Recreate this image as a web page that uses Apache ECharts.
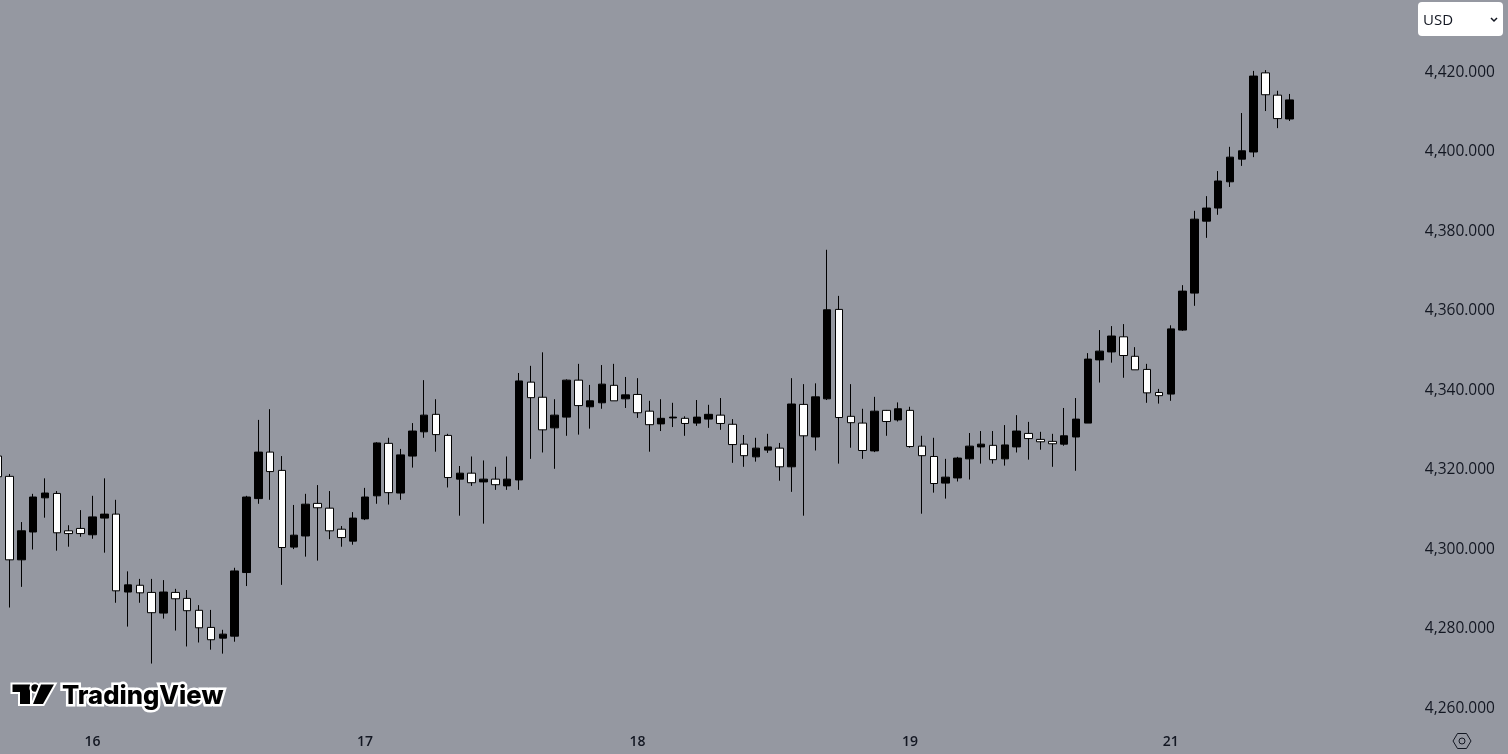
<!DOCTYPE html>
<html>
<head>
<meta charset="utf-8">
<title>USD chart</title>
<script src="https://cdn.jsdelivr.net/npm/echarts@6/dist/echarts.min.js"></script>
<style>
  html, body { margin: 0; padding: 0; background: #9598a1; }
  #chart { width: 1508px; height: 754px; }
</style>
</head>
<body>
<div id="chart"></div>
<script>
// hourly candles
const opens = [
  4323.0,4317.9,4296.9,4303.9,4312.5,4313.6,4304.2,4304.8,4303.2,4307.4,
  4308.4,4288.8,4290.5,4288.7,4283.5,4288.7,4287.2,4284.2,4279.9,4277.2,
  4277.7,4293.7,4312.3,4324.0,4319.4,4300.1,4302.9,4311.1,4309.9,4304.6,
  4301.6,4307.2,4313.0,4326.2,4313.7,4323.0,4329.1,4333.5,4328.2,4317.2,
  4318.7,4316.5,4317.2,4315.5,4317.0,4341.6,4337.8,4330.1,4332.8,4342.1,
  4335.4,4336.4,4340.8,4337.4,4338.5,4334.3,4331.1,4332.6,4332.5,4331.3,
  4332.3,4333.3,4331.0,4326.0,4322.8,4324.5,4325.0,4320.3,4336.0,4327.8,
  4337.4,4359.9,4333.0,4331.3,4324.3,4334.5,4332.1,4334.5,4325.5,4322.9,
  4316.2,4317.5,4322.3,4325.3,4325.7,4322.3,4325.3,4328.7,4327.2,4326.7,
  4326.0,4327.8,4331.3,4347.2,4349.2,4353.0,4348.1,4344.8,4339.0,4338.6,
  4354.7,4364.0,4382.1,4385.4,4392.0,4397.7,4399.5,4419.4,4413.8,4407.8
];
const closes = [
  4317.8,4296.9,4304.2,4312.7,4313.7,4303.7,4303.5,4303.5,4307.7,4308.4,
  4289.1,4290.6,4288.6,4283.6,4288.8,4287.1,4284.1,4279.8,4276.8,4278.2,
  4294.1,4312.7,4324.0,4319.1,4300.0,4303.1,4310.9,4310.0,4304.2,4302.5,
  4307.4,4312.7,4326.3,4313.8,4323.3,4329.3,4333.3,4328.4,4317.6,4318.7,
  4316.3,4317.2,4315.8,4317.2,4341.9,4337.7,4329.6,4333.3,4342.1,4335.7,
  4336.9,4341.1,4336.9,4338.4,4333.9,4330.9,4332.5,4332.8,4331.2,4332.8,
  4333.5,4331.2,4325.9,4323.1,4325.0,4325.3,4320.3,4336.1,4328.1,4337.9,
  4359.8,4332.7,4331.4,4324.4,4334.3,4331.7,4334.9,4325.4,4323.1,4316.1,
  4317.7,4322.5,4325.5,4326.0,4322.1,4325.8,4329.3,4327.4,4326.6,4326.1,
  4328.1,4332.3,4347.4,4349.4,4353.2,4348.3,4344.7,4338.9,4338.2,4355.0,
  4364.5,4382.6,4385.4,4392.2,4398.2,4399.8,4418.6,4413.9,4407.9,4412.6
];
const lows = [
  4317.8,4284.9,4290.1,4299.5,4307.5,4299.2,4300.2,4302.7,4302.2,4298.7,
  4286.1,4280.1,4286.1,4270.8,4282.1,4279.1,4275.1,4276.1,4274.3,4273.3,
  4276.3,4290.3,4311.0,4312.0,4290.6,4299.6,4297.7,4296.7,4302.1,4300.2,
  4300.7,4306.9,4311.0,4310.8,4312.0,4320.1,4327.6,4324.1,4315.1,4308.0,
  4315.5,4306.0,4314.5,4314.5,4314.5,4322.3,4323.9,4319.8,4328.1,4328.4,
  4329.9,4334.9,4336.9,4335.1,4332.6,4324.1,4329.3,4330.3,4328.1,4330.6,
  4330.1,4329.6,4321.3,4320.3,4321.6,4323.8,4316.8,4314.0,4308.0,4324.4,
  4337.1,4321.1,4325.1,4322.3,4324.0,4328.1,4331.7,4325.1,4308.5,4313.8,
  4312.3,4316.6,4317.1,4321.1,4321.1,4320.6,4323.9,4322.1,4324.6,4320.3,
  4325.6,4319.3,4331.3,4341.5,4346.5,4342.7,4344.7,4336.4,4336.2,4336.9,
  4354.5,4360.8,4377.9,4383.7,4390.7,4396.0,4398.2,4409.8,4405.5,4407.3
];
const highs = [
  4323.0,4318.5,4306.4,4313.5,4317.4,4314.2,4305.6,4309.4,4313.0,4317.4,
  4312.0,4294.0,4292.1,4292.1,4291.8,4289.6,4289.3,4285.5,4284.3,4279.3,
  4294.9,4313.0,4332.1,4334.8,4323.0,4310.7,4313.5,4315.7,4314.2,4305.4,
  4308.9,4315.0,4326.5,4327.6,4324.8,4331.3,4342.1,4337.3,4328.6,4320.5,
  4322.9,4321.9,4320.3,4322.9,4343.9,4345.7,4349.1,4337.3,4342.3,4346.2,
  4340.9,4345.9,4346.2,4342.9,4342.6,4336.9,4337.3,4336.4,4333.0,4337.1,
  4335.9,4337.6,4332.3,4328.3,4327.6,4328.6,4326.3,4342.6,4341.1,4341.3,
  4374.9,4363.3,4341.1,4334.9,4337.9,4334.6,4336.5,4335.4,4328.1,4327.6,
  4322.3,4322.8,4328.8,4329.3,4329.3,4330.8,4333.3,4331.6,4329.1,4328.6,
  4335.1,4337.6,4348.9,4354.7,4355.7,4356.2,4350.4,4346.2,4339.9,4355.9,
  4366.0,4384.7,4388.4,4394.7,4400.8,4409.3,4419.9,4420.1,4414.9,4414.1
];
const tickIndex = [8, 31, 54, 77, 99];
const tickLabels = ["16", "17", "18", "19", "21"];
const categories = opens.map((_, i) => String(i));

const myChart = echarts.init(document.getElementById("chart"));
const ink = "#131722";

const option = {
  animation: false,
  backgroundColor: "#9598a1",
  grid: { left: -8.3, width: 1303.5, top: 30.75, bottom: 47.5, outerBoundsMode: "none" },
  xAxis: {
    type: "category",
    data: categories,
    boundaryGap: true,
    axisLine: { show: false },
    axisTick: { show: false },
    splitLine: { show: false },
    axisLabel: {
      margin: 29,
      color: ink,
      fontFamily: "Open Sans",
      fontSize: 14,
      fontWeight: 600,
      interval: (index) => tickIndex.includes(index),
      formatter: (value, index) => tickLabels[tickIndex.indexOf(index)] || "",
    },
  },
  yAxis: {
    type: "value",
    position: "right",
    min: 4260,
    max: 4430,
    interval: 20,
    axisLine: { show: false },
    axisTick: { show: false },
    splitLine: { show: false },
    axisLabel: {
      margin: 129.6,
      color: ink,
      fontFamily: "Open Sans",
      fontSize: 15.5,
      verticalAlign: "top",
      lineHeight: 4,
      showMaxLabel: false,
      formatter: (v) => v.toLocaleString("en-US", { minimumFractionDigits: 3 }),
    },
  },
  series: [
    {
      type: "candlestick",
      barWidth: 8,
      // black candles rise, white candles fall
      itemStyle: {
        color: "#000000",
        color0: "#ffffff",
        borderColor: "#000000",
        borderColor0: "#000000",
        borderColorDoji: "#000000",
        borderWidth: 1,
      },
      data: opens.map((o, i) => [o, closes[i], lows[i], highs[i]]),
    },
  ],
  graphic: [
    // currency box
    { type: "rect", shape: { x: 1418, y: 2, width: 85, height: 34, r: 4 }, style: { fill: "#ffffff" } },
    { type: "text", x: 1423, y: 13, style: { text: "USD", fill: ink, font: '15px "Open Sans"' } },
    { type: "polyline", shape: { points: [[1491, 18], [1494, 21], [1497, 18]] }, style: { stroke: ink, lineWidth: 1.5, fill: null } },
    // settings icon
    { type: "polygon", shape: { points: [[1453, 741], [1457.5, 733.5], [1466.5, 733.5], [1471, 741], [1466.5, 748.5], [1457.5, 748.5]] }, style: { stroke: ink, lineWidth: 1, fill: null } },
    { type: "circle", shape: { cx: 1462, cy: 741, r: 3 }, style: { stroke: ink, lineWidth: 1, fill: null } },
    // logo
    { type: "polygon", shape: { points: [[12.5, 684.5], [30, 684.5], [30, 704], [20, 704], [20, 692], [12.5, 692]] }, style: { fill: "#000", stroke: "#fff", lineWidth: 4, strokeFirst: true } },
    { type: "circle", shape: { cx: 35, cy: 688, r: 3.7 }, style: { fill: "#000", stroke: "#fff", lineWidth: 4, strokeFirst: true } },
    { type: "polygon", shape: { points: [[41, 684.5], [54, 684.5], [43, 704], [33, 704]] }, style: { fill: "#000", stroke: "#fff", lineWidth: 4, strokeFirst: true } },
    { type: "text", x: 62, y: 683, style: { text: "TradingView", fill: "#000", stroke: "#fff", lineWidth: 5, font: '800 25.6px "Inter"' } },
  ],
};
myChart.setOption(option);
window.addEventListener("resize", function () {
  myChart.resize();
});
</script>
</body>
</html>
